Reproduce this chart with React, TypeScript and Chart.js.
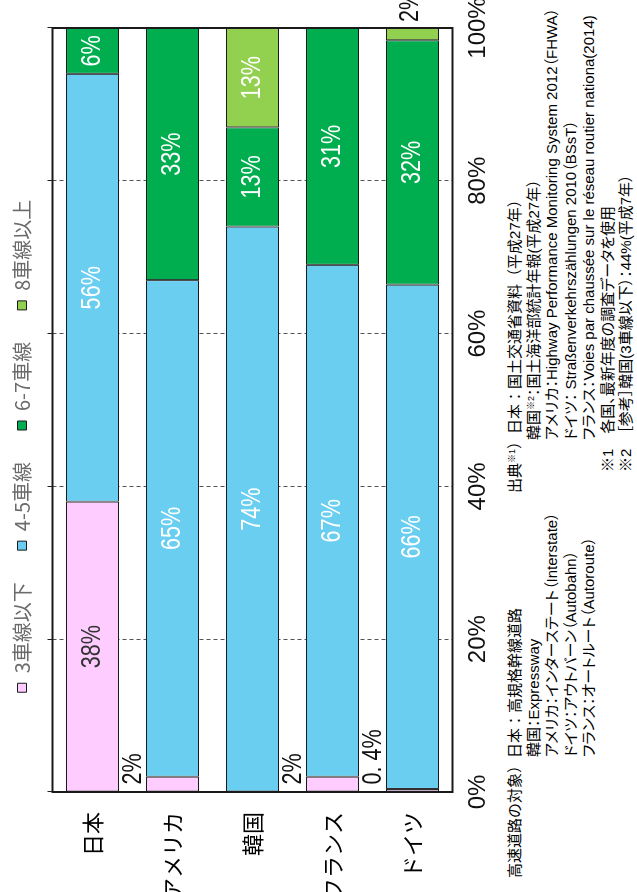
import React, { useEffect, useRef } from 'react';
import { Chart, registerables } from 'chart.js';

Chart.register(...registerables);

// ---- data ----
const categories = ['日本', 'アメリカ', '韓国', 'フランス', 'ドイツ'];
const seriesNames = ['3車線以下', '4-5車線', '6-7車線', '8車線以上'];
const lanes3 = [38, 2, null, 2, 0.4];
const lanes45 = [56, 65, 74, 67, 66];
const lanes67 = [6, 33, 13, 31, 32];
const lanes8 = [null, null, 13, null, 2];
const tickValues = [0, 20, 40, 60, 80, 100];

const notesLeftFirst = '高速道路の対象）日本：高規格幹線道路';
const notesLeftRest = [
  '韓国：Expressway',
  'アメリカ：インターステート（Interstate）',
  'ドイツ：アウトバーン（Autobahn）',
  'フランス：オートルート（Autoroute）',
];
const notesRightRest = [
  'アメリカ：Highway Performance Monitoring System 2012（FHWA）',
  'ドイツ： Straßenverkehrszählungen 2010（BSsT）',
  'フランス：Voies par chaussée sur le réseau routier nationa(2014)',
];
const notesFoot = [
  '※1　各国、最新年度の調査データを使用',
  '※2　［参考］韓国(3車線以下）：44%(平成7年）',
];

// ---- styles ----
const colors = ['#FFCCFF', '#69CEF0', '#00AE4F', '#92D050'];
const NARROW = "'Liberation Sans Narrow', 'Liberation Sans', sans-serif";
const CJK = "'Noto Sans CJK JP', sans-serif";
const Y_AXIS_W = 100;
const RIGHT_GAP = 28;
const LABEL_SQUEEZE = 0.8;

const fmt = (v: number) => String(v).replace('.', '. ') + '%';

const framePlugin = {
  id: 'frame',
  afterDatasetsDraw(chart: any) {
    const { ctx, chartArea: a } = chart;
    ctx.save();
    ctx.strokeStyle = '#1a1a1a';
    ctx.lineWidth = 2;
    ctx.strokeRect(a.left, a.top, a.right - a.left, a.bottom - a.top);
    ctx.restore();
  },
};

const labelPlugin = {
  id: 'barLabels',
  afterDatasetsDraw(chart: any) {
    const ctx = chart.ctx;
    const n = chart.data.datasets.length;
    chart.data.datasets.forEach((ds: any, di: number) => {
      const meta = chart.getDatasetMeta(di);
      meta.data.forEach((el: any, i: number) => {
        const v = ds.data[i];
        if (v == null || v === 0) return;
        const { x, y, base, height } = el.getProps(['x', 'y', 'base', 'height'], true);
        const txt = fmt(v);
        let px: number, py: number;
        ctx.save();
        ctx.font = `27px ${NARROW}`;
        ctx.textBaseline = 'middle';
        if (v < 3) {
          ctx.fillStyle = '#111';
          ctx.textAlign = 'left';
          if (di === n - 1) {
            px = Math.max(base, x) + 3;
            py = y - 2;
          } else {
            px = Math.min(base, x) + 7;
            py = y - height / 2 - 12;
          }
        } else {
          ctx.fillStyle = di === 0 ? '#333' : '#fff';
          ctx.textAlign = 'center';
          px = (base + x) / 2;
          py = y;
        }
        ctx.translate(px, py);
        ctx.scale(LABEL_SQUEEZE, 1);
        ctx.fillText(txt, 0, 0);
        ctx.restore();
      });
    });
  },
};

function ChartCanvas() {
  const ref = useRef<HTMLCanvasElement>(null);
  useEffect(() => {
    if (!ref.current) return;
    const series = [lanes3, lanes45, lanes67, lanes8];
    const chart = new Chart(ref.current, {
      type: 'bar',
      data: {
        labels: categories,
        datasets: series.map((d, k) => ({
          label: seriesNames[k],
          data: d,
          backgroundColor: colors[k],
          borderColor: '#1a1a1a',
          borderWidth: 1,
          borderSkipped: false,
          categoryPercentage: 1,
          barPercentage: 0.6625,
        })),
      },
      options: {
        indexAxis: 'y',
        responsive: false,
        animation: false,
        devicePixelRatio: 1,
        layout: { padding: 0 },
        plugins: {
          tooltip: { enabled: false },
          legend: {
            position: 'top',
            labels: {
              boxWidth: 9,
              boxHeight: 9,
              padding: 12,
              color: '#6b6b6b',
              font: { family: CJK, size: 20 },
              generateLabels: (c: any) => {
                const items = Chart.defaults.plugins.legend.labels.generateLabels(c);
                return items.map((it: any, k: number) => ({
                  ...it,
                  text: k < items.length - 1 ? it.text + '　' : it.text,
                }));
              },
            },
          },
        },
        scales: {
          x: {
            type: 'linear',
            stacked: true,
            min: 0,
            max: 100,
            position: 'bottom',
            afterBuildTicks: (s: any) => {
              s.ticks = tickValues.map((v) => ({ value: v }));
            },
            afterFit: (s: any) => {
              s.paddingLeft = 0;
              s.paddingRight = RIGHT_GAP;
              s.height = 44.5;
            },
            grid: { color: '#555', lineWidth: 1, drawTicks: false },
            border: { display: false, dash: [4, 3] },
            ticks: {
              padding: 11,
              color: '#111',
              font: { family: NARROW, size: 24 },
              callback: (v: any) => v + '%',
            },
          },
          x2: {
            type: 'linear',
            min: 0,
            max: 100,
            position: 'top',
            afterBuildTicks: (s: any) => {
              s.ticks = tickValues.map((v) => ({ value: v }));
            },
            afterFit: (s: any) => {
              s.paddingLeft = 0;
              s.paddingRight = 0;
              s.height = 10.5;
            },
            grid: { drawOnChartArea: false, drawTicks: true, tickLength: 5, tickColor: '#222', color: '#222' },
            border: { display: false },
            ticks: { display: false },
          },
          y: {
            type: 'category',
            stacked: true,
            afterFit: (s: any) => {
              s.width = Y_AXIS_W;
            },
            grid: { display: false, drawTicks: false },
            border: { display: false },
            ticks: {
              autoSkip: false,
              padding: 20,
              color: '#000',
              font: { family: CJK, size: 22 },
            },
          },
        },
      },
      plugins: [framePlugin, labelPlugin],
    } as any);
    return () => chart.destroy();
  }, []);
  return <canvas ref={ref} width={892} height={497} style={{ position: 'absolute', left: 0, top: 0, width: 892, height: 497 }} />;
}

const noteFont: React.CSSProperties = {
  fontFamily: "'Liberation Sans', 'Noto Sans CJK JP', sans-serif",
  fontSize: 15,
  lineHeight: '18.5px',
  color: '#000',
  whiteSpace: 'nowrap',
};
const palt: React.CSSProperties = { fontFeatureSettings: '"palt"' };
const supStyle: React.CSSProperties = { fontSize: 9, verticalAlign: 'top', lineHeight: '12px' };

export default function App() {
  return (
    <div style={{ position: 'absolute', left: 0, top: 0, width: 637, height: 892, overflow: 'hidden', background: '#fff' }}>
      <div
        style={{
          position: 'absolute',
          left: 0,
          top: 0,
          width: 892,
          height: 637,
          transformOrigin: '0 0',
          transform: 'translateY(892px) rotate(-90deg)',
        }}
      >
        <ChartCanvas />
        <div style={{ ...noteFont, position: 'absolute', left: 14, top: 506 }}>
          <div>{notesLeftFirst}</div>
          {notesLeftRest.map((t) => (
            <div key={t} style={{ ...palt, paddingLeft: 121 }}>{t}</div>
          ))}
        </div>
        <div style={{ ...noteFont, position: 'absolute', left: 399, top: 506 }}>
          <div>
            出典<span style={supStyle}>※1</span>）日本：国土交通省資料（平成27年）
          </div>
          <div style={{ ...palt, paddingLeft: 53 }}>
            韓国<span style={supStyle}>※2</span>：国土海洋部統計年報(平成27年）
          </div>
          {notesRightRest.map((t) => (
            <div key={t} style={{ ...palt, paddingLeft: 53 }}>{t}</div>
          ))}
          {notesFoot.map((t) => (
            <div key={t} style={{ ...palt, paddingLeft: 21 }}>{t}</div>
          ))}
        </div>
      </div>
    </div>
  );
}
